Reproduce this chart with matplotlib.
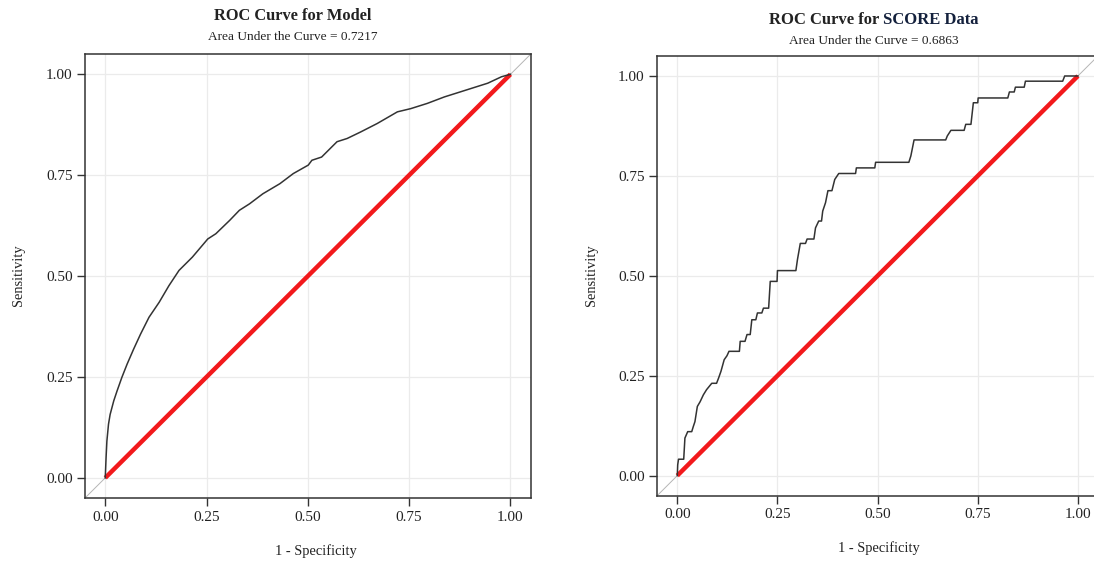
import matplotlib.pyplot as plt
import numpy as np

# ROC curve for the model (smooth, many thresholds)
model_fpr = [0.0, 0.002, 0.004, 0.008, 0.012, 0.021, 0.029, 0.041, 0.054, 0.070,
             0.087, 0.108, 0.133, 0.157, 0.182, 0.215, 0.253, 0.273, 0.307, 0.331,
             0.356, 0.389, 0.431, 0.464, 0.501, 0.510, 0.534, 0.572, 0.597, 0.630,
             0.671, 0.721, 0.754, 0.795, 0.837, 0.878, 0.944, 0.978, 1.0]
model_tpr = [0.0, 0.050, 0.091, 0.133, 0.157, 0.191, 0.215, 0.249, 0.282, 0.319,
             0.356, 0.398, 0.435, 0.476, 0.514, 0.547, 0.592, 0.605, 0.638, 0.663,
             0.679, 0.704, 0.729, 0.754, 0.775, 0.787, 0.795, 0.833, 0.841, 0.857,
             0.878, 0.907, 0.915, 0.928, 0.944, 0.957, 0.978, 0.994, 1.0]
model_auc = 0.7217

# ROC curve for SCORE data (step shaped)
score_fpr = [0.0, 0.001, 0.003, 0.016, 0.019, 0.026, 0.036, 0.040, 0.044, 0.050,
             0.057, 0.065, 0.073, 0.086, 0.098, 0.103, 0.109, 0.117, 0.124, 0.129,
             0.155, 0.157, 0.169, 0.174, 0.182, 0.186, 0.196, 0.200, 0.211, 0.215,
             0.228, 0.232, 0.249, 0.250, 0.296, 0.300, 0.307, 0.320, 0.324, 0.341,
             0.345, 0.353, 0.360, 0.363, 0.370, 0.376, 0.386, 0.393, 0.403, 0.445,
             0.447, 0.493, 0.495, 0.578, 0.583, 0.591, 0.670, 0.674, 0.683, 0.716,
             0.720, 0.733, 0.739, 0.750, 0.751, 0.825, 0.829, 0.841, 0.844, 0.866,
             0.869, 0.962, 0.967, 1.0]
score_tpr = [0.0, 0.027, 0.041, 0.041, 0.094, 0.110, 0.110, 0.123, 0.135, 0.173,
             0.185, 0.202, 0.215, 0.231, 0.231, 0.244, 0.261, 0.290, 0.300, 0.311,
             0.311, 0.336, 0.336, 0.353, 0.353, 0.390, 0.390, 0.407, 0.407, 0.419,
             0.419, 0.486, 0.486, 0.513, 0.513, 0.541, 0.581, 0.581, 0.592, 0.592,
             0.620, 0.637, 0.637, 0.662, 0.683, 0.713, 0.713, 0.741, 0.756, 0.756,
             0.770, 0.770, 0.784, 0.784, 0.800, 0.840, 0.840, 0.850, 0.864, 0.864,
             0.879, 0.879, 0.933, 0.933, 0.945, 0.945, 0.960, 0.960, 0.972, 0.972,
             0.987, 0.987, 1.0, 1.0]
score_auc = 0.6863

ticks = [0.0, 0.25, 0.5, 0.75, 1.0]

plt.rcParams["font.family"] = ["Liberation Serif", "DejaVu Serif"]

fig = plt.figure(figsize=(10.94, 5.64), dpi=100, facecolor="white")
ax1 = fig.add_axes([0.0777, 0.117, 0.4074, 0.787])
ax2 = fig.add_axes([0.6008, 0.1213, 0.4028, 0.7794])


def roc_panel(ax, fpr, tpr):
    ax.set_xlim(-0.05, 1.05)
    ax.set_ylim(-0.05, 1.05)
    ax.set_xticks(ticks)
    ax.set_yticks(ticks)
    ax.set_xticklabels([f"{t:.2f}" for t in ticks])
    ax.set_yticklabels([f"{t:.2f}" for t in ticks])
    ax.grid(True, color="#ebebeb", lw=0.9, zorder=0)
    ax.set_axisbelow(True)
    ax.axline((0, 0), (1, 1), color="#b5b5b5", lw=0.7, zorder=1)
    ax.plot(fpr, tpr, color="#333333", lw=1.1, zorder=3)
    ax.plot([0, 1], [0, 1], color="#f2191c", lw=3.2, solid_capstyle="butt", zorder=2)
    for s in ax.spines.values():
        s.set_color("#333333")
        s.set_linewidth(1.1)
    ax.tick_params(direction="out", length=5.5, width=1, color="#333333",
                   labelsize=11, labelcolor="#222222", pad=3.5)


roc_panel(ax1, model_fpr, model_tpr)
roc_panel(ax2, score_fpr, score_tpr)
# right panel is cut off at the image edge in the original
ax2.spines["right"].set_visible(False)

# titles
fig.text(0.268, 0.971, "ROC Curve for Model", ha="center", va="center",
         fontsize=11.8, weight="bold", color="#222222")
fig.text(0.268, 0.934, f"Area Under the Curve = {model_auc}", ha="center",
         va="center", fontsize=9.6, color="#222222")

# right title: "SCORE Data" is drawn in a dark navy tone
fig.canvas.draw()
r = fig.canvas.get_renderer()
t1 = fig.text(0, 0.964, "ROC Curve for ", ha="left", va="center",
              fontsize=12, weight="bold", color="#222222")
t2 = fig.text(0, 0.964, "SCORE Data", ha="left", va="center",
              fontsize=12, weight="bold", color="#14213d")
w1 = t1.get_window_extent(r).width / fig.bbox.width
w2 = t2.get_window_extent(r).width / fig.bbox.width
x0 = 0.7985 - (w1 + w2) / 2
t1.set_x(x0)
t2.set_x(x0 + w1)
fig.text(0.7985, 0.927, f"Area Under the Curve = {score_auc}", ha="center",
         va="center", fontsize=9.6, color="#222222")

# axis labels
fig.text(0.289, 0.023, "1 - Specificity", ha="center", va="center",
         fontsize=10.4, color="#222222")
fig.text(0.803, 0.028, "1 - Specificity", ha="center", va="center",
         fontsize=10.4, color="#222222")
fig.text(0.0165, 0.512, "Sensitivity", ha="center", va="center",
         rotation=90, fontsize=10.4, color="#222222")
fig.text(0.541, 0.512, "Sensitivity", ha="center", va="center",
         rotation=90, fontsize=10.4, color="#222222")

fig.savefig("out.png", dpi=100, facecolor="white")
